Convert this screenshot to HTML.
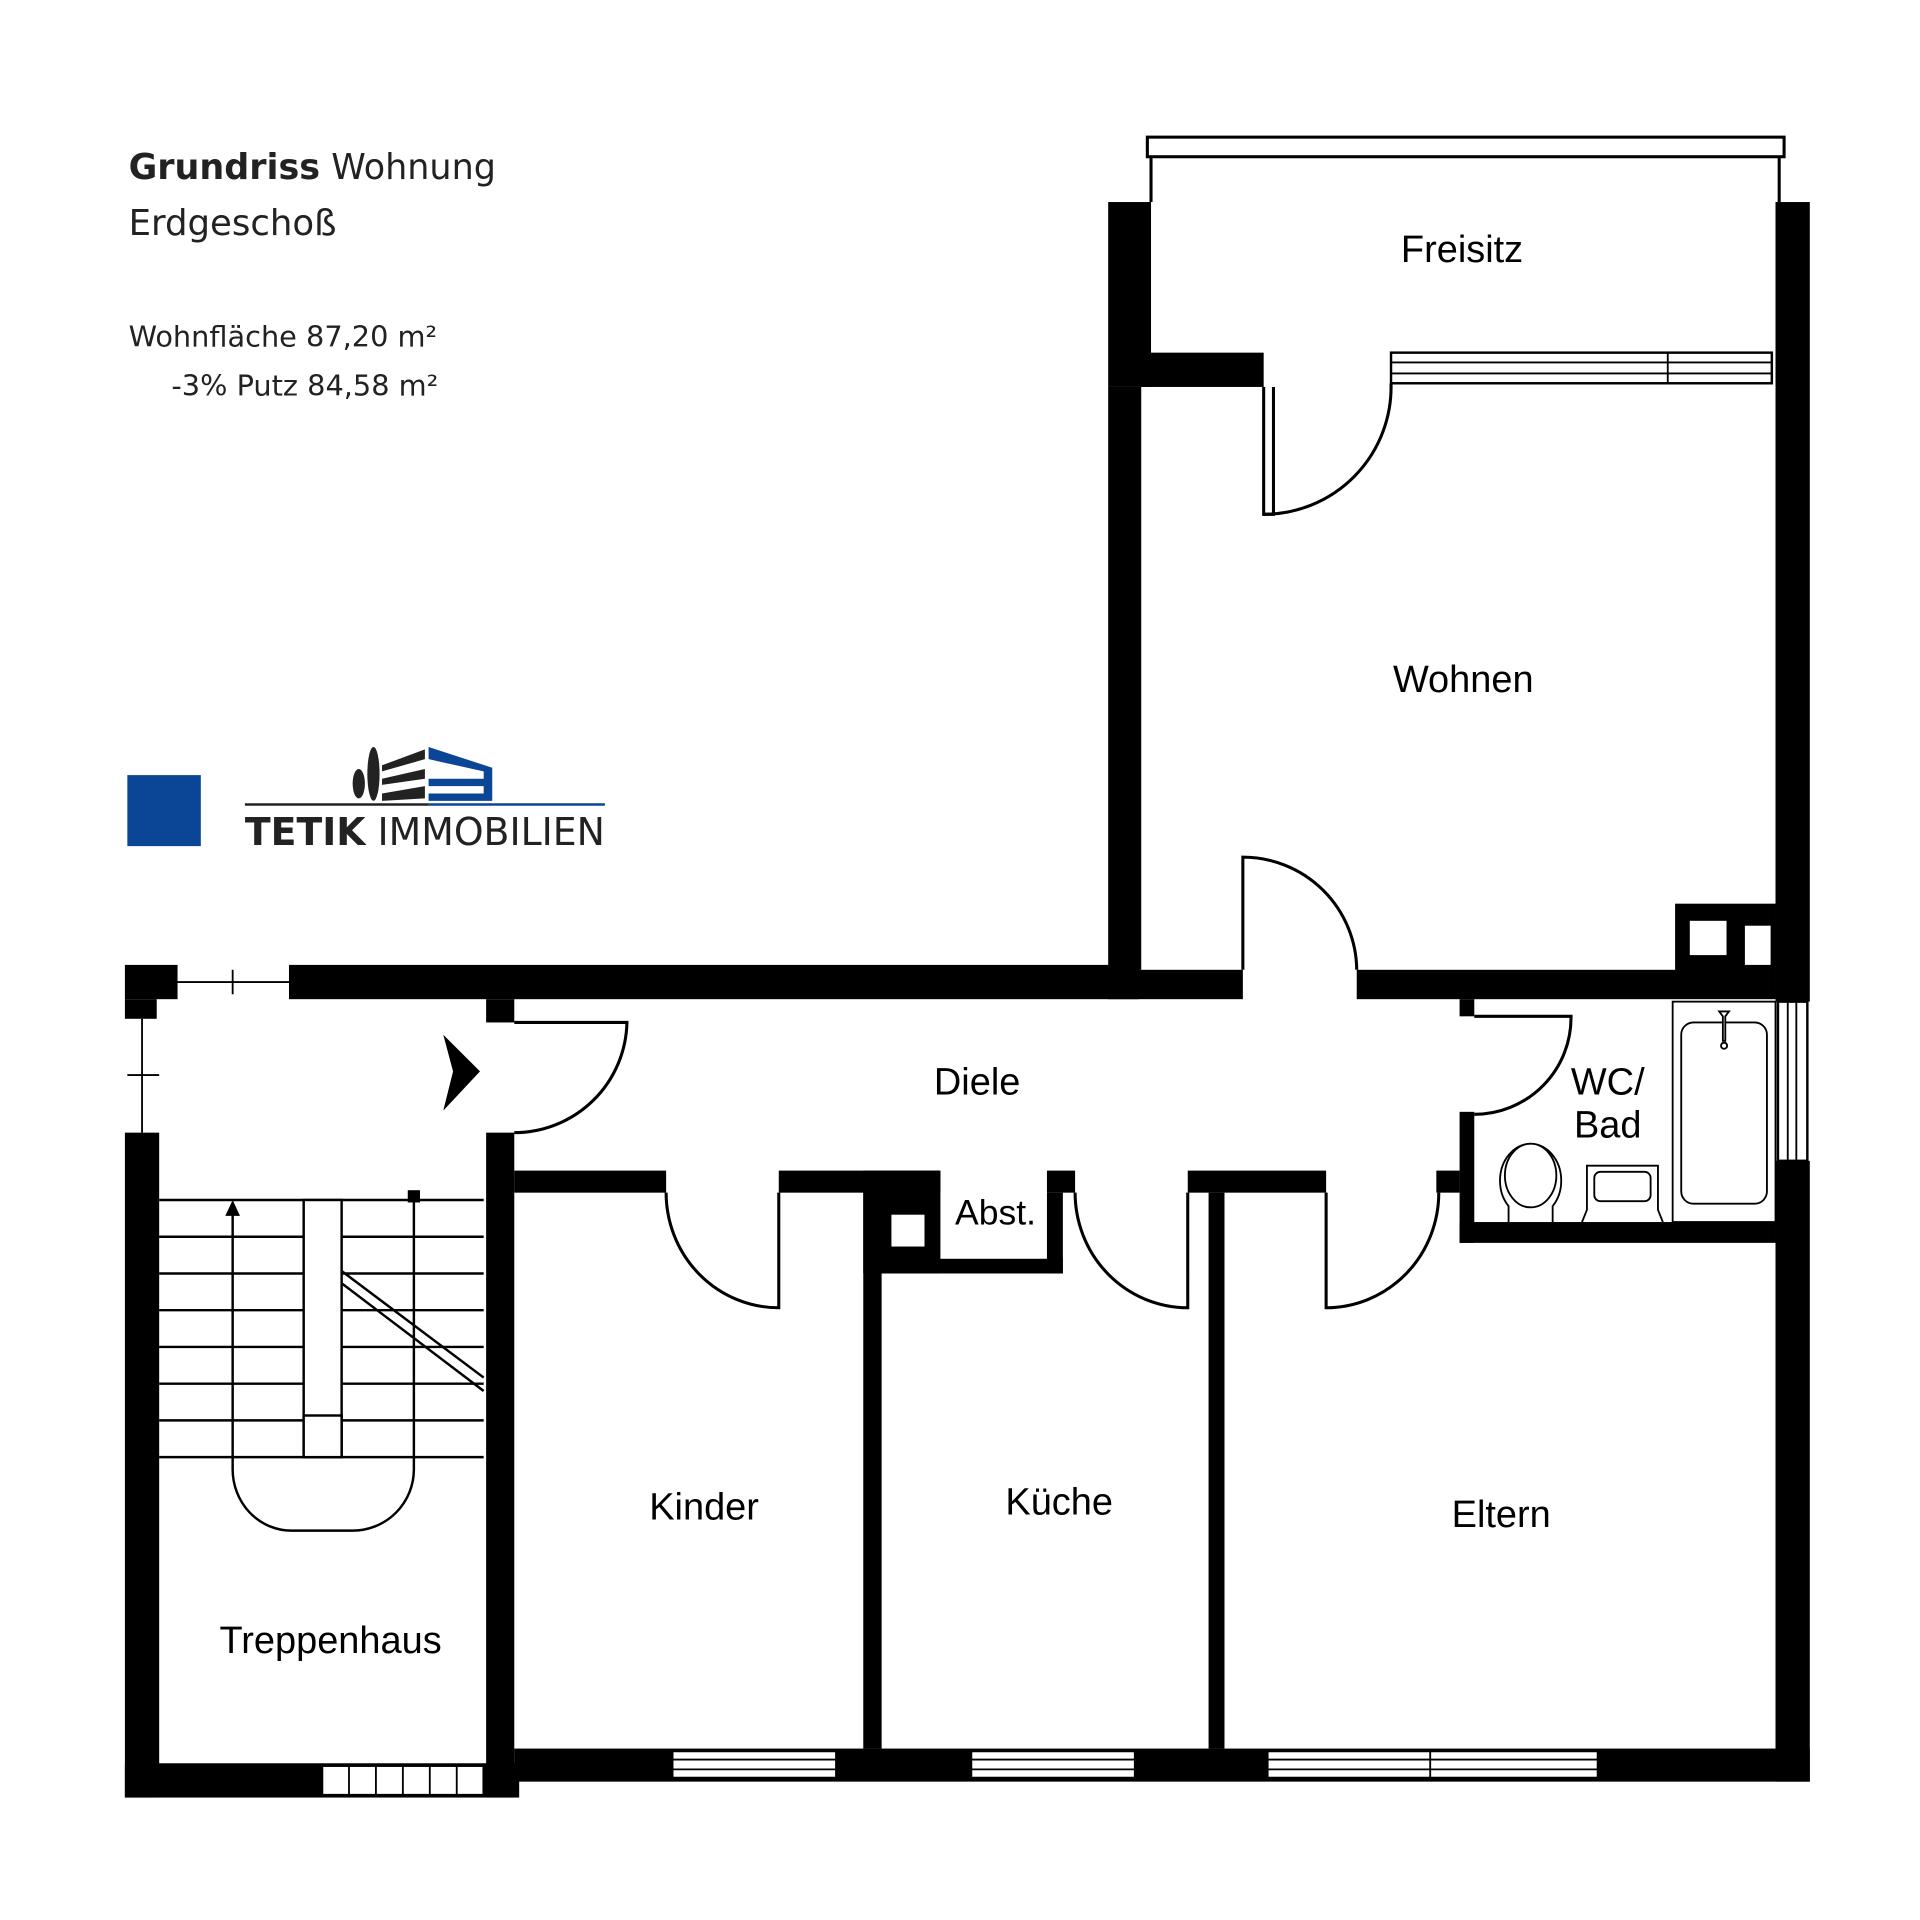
<!DOCTYPE html>
<html><head><meta charset="utf-8"><style>html,body{margin:0;padding:0;background:#fff}svg{display:block}</style></head>
<body>
<svg width="1920" height="1920" viewBox="0 0 1568 1568" xmlns="http://www.w3.org/2000/svg" font-family="Liberation Sans, sans-serif">
<rect width="1568" height="1568" fill="#fff"/>
<!-- Title -->
<g font-family="DejaVu Sans, Liberation Sans, sans-serif" fill="#222">
<text x="105" y="146" font-size="29" textLength="300" lengthAdjust="spacingAndGlyphs"><tspan font-weight="bold">Grundriss</tspan> Wohnung</text>
<text x="105" y="192" font-size="29">Erdgeschoß</text>
<text x="105" y="283" font-size="23.5">Wohnfläche 87,20 m²</text>
<text x="140" y="323" font-size="23.5">-3% Putz 84,58 m²</text>
</g>
<!-- Logo -->
<rect x="104" y="633" width="60" height="58" fill="#0a4596"/>
<line x1="200" y1="657" x2="350" y2="657" stroke="#222" stroke-width="2"/>
<line x1="350" y1="657" x2="494" y2="657" stroke="#0a4596" stroke-width="2"/>
<ellipse cx="293" cy="640" rx="5" ry="12" fill="#222"/>
<ellipse cx="305" cy="632" rx="5" ry="22" fill="#222"/>
<polygon points="312,625 347,612 347,620 312,630" fill="#222"/>
<polygon points="312,636 347,628 347,636 312,641" fill="#222"/>
<polygon points="312,648 347,642 347,652 312,654" fill="#222"/>
<path d="M350,610 L402,627 L402,654 L350,654 L350,648 L395,648 L395,642 L350,642 L350,636 L395,636 L395,630 L350,620 Z" fill="#0a4596"/>
<text x="200" y="690" font-size="31" font-family="DejaVu Sans, sans-serif" fill="#222" textLength="294" lengthAdjust="spacingAndGlyphs"><tspan font-weight="bold">TETIK</tspan> IMMOBILIEN</text>

<g fill="#000">
<rect x="102" y="925" width="28" height="543"/>
<rect x="102" y="788" width="43" height="28"/>
<rect x="102" y="816" width="26" height="16"/>
<rect x="236" y="788" width="694" height="28"/>
<rect x="905" y="792" width="110" height="24"/>
<rect x="1108" y="792" width="342" height="24"/>
<rect x="397" y="816" width="23" height="19"/>
<rect x="397" y="925" width="23" height="543"/>
<rect x="905" y="165" width="35" height="151"/>
<rect x="905" y="316" width="27" height="476"/>
<rect x="932" y="288" width="100" height="28"/>
<rect x="1450" y="165" width="28" height="653"/>
<rect x="1450" y="948" width="28" height="507"/>
<rect x="1368" y="738" width="82" height="56"/>
<rect x="1192" y="816" width="12" height="14"/>
<rect x="1192" y="908" width="12" height="107"/>
<rect x="1192" y="998" width="258" height="17"/>
<rect x="420" y="956" width="124" height="18"/>
<rect x="636" y="956" width="132" height="18"/>
<rect x="705" y="956" width="63" height="84"/>
<rect x="855" y="956" width="23" height="18"/>
<rect x="855" y="974" width="13" height="66"/>
<rect x="720" y="1028" width="148" height="12"/>
<rect x="970" y="956" width="113" height="18"/>
<rect x="1173" y="956" width="19" height="18"/>
<rect x="705" y="974" width="15" height="454"/>
<rect x="987" y="974" width="13" height="454"/>
<rect x="420" y="1428" width="1058" height="27"/>
<rect x="102" y="1440" width="322" height="28"/>
<polygon points="362,845 392,875 362,907 370,875"/>
</g>
<g fill="#fff">
<rect x="1380" y="752" width="30" height="28"/>
<rect x="1425" y="756" width="21" height="32"/>
<rect x="728" y="992" width="27" height="26"/>
</g>
<g fill="#fff" stroke="#000" stroke-width="2">
<rect x="937" y="112" width="520" height="16" stroke-width="2.5"/>
<rect x="1136" y="288" width="311" height="25"/>
<rect x="1452" y="818" width="24" height="130"/>
<rect x="549" y="1430" width="134" height="22"/>
<rect x="793" y="1430" width="134" height="22"/>
<rect x="1035" y="1430" width="270" height="22"/>
<rect x="263" y="1442" width="132" height="24"/>
</g>
<g stroke="#000" stroke-width="1.5" fill="none">
<line x1="940" y1="128" x2="940" y2="165" stroke-width="2.5"/><line x1="1453" y1="128" x2="1453" y2="165" stroke-width="2.5"/>
<line x1="1136" y1="296" x2="1447" y2="296"/><line x1="1136" y1="305" x2="1447" y2="305"/><line x1="1362" y1="288" x2="1362" y2="313"/>
<line x1="1460" y1="818" x2="1460" y2="948"/><line x1="1467" y1="818" x2="1467" y2="948"/>
<line x1="549" y1="1437" x2="683" y2="1437"/><line x1="549" y1="1445" x2="683" y2="1445"/>
<line x1="793" y1="1437" x2="927" y2="1437"/><line x1="793" y1="1445" x2="927" y2="1445"/>
<line x1="1035" y1="1437" x2="1305" y2="1437"/><line x1="1035" y1="1445" x2="1305" y2="1445"/><line x1="1168" y1="1430" x2="1168" y2="1452"/>
<line x1="285" y1="1442" x2="285" y2="1466"/><line x1="307" y1="1442" x2="307" y2="1466"/><line x1="329" y1="1442" x2="329" y2="1466"/><line x1="351" y1="1442" x2="351" y2="1466"/><line x1="373" y1="1442" x2="373" y2="1466"/>
<line x1="145" y1="802" x2="236" y2="802"/><line x1="190" y1="792" x2="190" y2="812"/>
<line x1="116" y1="832" x2="116" y2="925"/><line x1="104" y1="878" x2="130" y2="878"/>
</g>
<g stroke="#000" stroke-width="2.5" fill="none">
<path d="M1032,316 V420 H1040 V316"/><path d="M1032,420 A104,104 0 0 0 1136,313"/>
<path d="M1015,792 V700 A93,93 0 0 1 1108,792"/>
<path d="M1204,830 H1283 A79,79 0 0 1 1204,910"/>
<path d="M420,835 H512 A92,92 0 0 1 420,925"/>
<path d="M636,974 V1068 A92,94 0 0 1 544,974"/>
<path d="M970,974 V1068 A92,94 0 0 1 878,974"/>
<path d="M1083,974 V1068 A92,94 0 0 0 1175,974"/>
</g>
<g stroke="#000" stroke-width="2" fill="none">
<line x1="130" y1="980" x2="395" y2="980"/><line x1="130" y1="1010" x2="395" y2="1010"/>
<line x1="130" y1="1040" x2="395" y2="1040"/><line x1="130" y1="1070" x2="395" y2="1070"/>
<line x1="130" y1="1100" x2="395" y2="1100"/><line x1="130" y1="1130" x2="395" y2="1130"/>
<line x1="130" y1="1160" x2="395" y2="1160"/><line x1="130" y1="1190" x2="395" y2="1190"/>
<rect x="248" y="980" width="31" height="210" fill="#fff"/>
<rect x="248" y="1156" width="31" height="34" fill="#fff"/>
<line x1="279" y1="1038" x2="395" y2="1125"/><line x1="279" y1="1048" x2="395" y2="1136"/>
<path d="M190,988 V1200 A48,50 0 0 0 238,1250 H288 A50,50 0 0 0 338,1200 V980"/>
</g>
<polygon points="184,993 190,980 196,993" fill="#000"/>
<rect x="333" y="972" width="10" height="10" fill="#000"/>
<g stroke="#000" stroke-width="1.5" fill="#fff">
<rect x="1366" y="818" width="84" height="180"/>
<rect x="1373" y="835" width="70" height="148" rx="10"/>
<path d="M1404,826 h8 l-3,4 v20 h-2 v-20 z"/><circle cx="1408" cy="854" r="2.5"/>
<path d="M1292,998 L1296,988 V952 H1354 V988 L1358,998"/>
<rect x="1302" y="957" width="46" height="24" rx="5"/>
<path d="M1232,998 V985 A25,30 0 1 1 1268,985 V998"/>
<ellipse cx="1250" cy="960" rx="21" ry="26"/>
</g>
<g font-size="31" fill="#000" text-anchor="middle">
<text x="1194" y="214">Freisitz</text>
<text x="1195" y="565">Wohnen</text>
<text x="798" y="894">Diele</text>
<text x="1313" y="894">WC/</text>
<text x="1313" y="929">Bad</text>
<text x="813" y="1000" font-size="29">Abst.</text>
<text x="575" y="1241">Kinder</text>
<text x="865" y="1237">Küche</text>
<text x="1226" y="1247">Eltern</text>
<text x="270" y="1350">Treppenhaus</text>
</g>
</svg>
</body></html>
